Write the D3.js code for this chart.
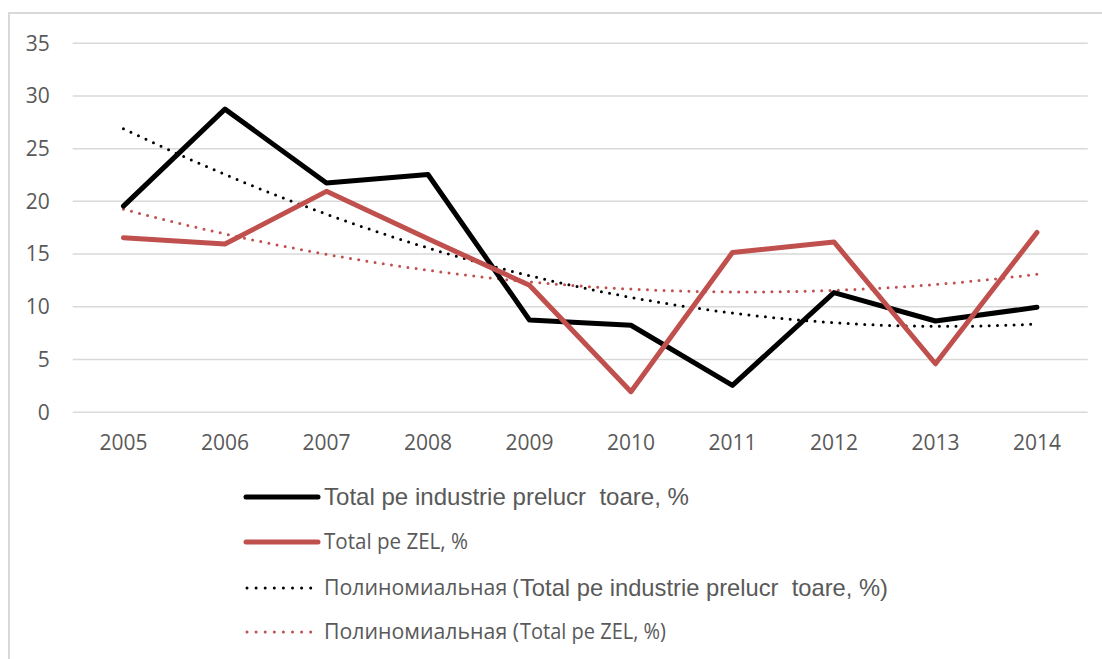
<!DOCTYPE html>
<html>
<head>
<meta charset="utf-8">
<script src="https://cdn.jsdelivr.net/npm/d3@7"></script>
<style>
  html, body { margin: 0; padding: 0; background: #ffffff; }
  svg { display: block; }
</style>
</head>
<body>
<svg id="chart" width="1102" height="659"></svg>
<script>
// Years on the category axis
const years = ["2005", "2006", "2007", "2008", "2009", "2010", "2011", "2012", "2013", "2014"];

// Share values, %
const industrieValues = [19.5, 28.7, 21.7, 22.5, 8.7, 8.2, 2.5, 11.3, 8.6, 9.9];
const zelValues       = [16.5, 15.9, 20.9, 16.4, 12.0, 1.9, 15.1, 16.1, 4.55, 17.0];

// Value axis ticks
const yTicks = [0, 5, 10, 15, 20, 25, 30, 35];

// Legend captions (each row may mix two typefaces)
const legendIndustrie = "Total pe industrie prelucr  toare, %";
const legendZel = "Total pe ZEL, %";
const trendPrefix = "Полиномиальная (";

const svg = d3.select("#chart");
const W = 1102, H = 659;

const RED = "#C0504D";
const GRID = "#D9D9D9";
const TEXT = "#595959";
const SEGOE = "'Open Sans', 'Noto Sans', sans-serif";
const ARIAL = "'Liberation Sans', Arial, sans-serif";

// Chart area frame
svg.append("rect")
  .attr("x", 9).attr("y", 13)
  .attr("width", W + 20).attr("height", H + 20)
  .attr("fill", "#ffffff")
  .attr("stroke", GRID).attr("stroke-width", 2);

const plot = { left: 72.7, right: 1087.7, top: 42.7, bottom: 411.7 };

const x = d3.scaleBand().domain(years).range([plot.left, plot.right]).padding(0);
const xc = d => x(d) + x.bandwidth() / 2;
const y = d3.scaleLinear().domain([0, 35]).range([plot.bottom, plot.top]);

// Horizontal gridlines + value labels
const yAxis = d3.axisLeft(y).tickValues(yTicks)
  .tickSize(-(plot.right - plot.left)).tickPadding(23).tickFormat(d3.format("d"));
const gy = svg.append("g").attr("transform", `translate(${plot.left},0)`).call(yAxis);
gy.select(".domain").remove();
gy.selectAll(".tick line").attr("stroke", GRID).attr("stroke-width", 1.5);
gy.selectAll(".tick text")
  .attr("fill", TEXT).attr("font-family", SEGOE).attr("font-size", 21)
  .attr("dy", "0.35em");

// Category labels
const xAxis = d3.axisBottom(x).tickSize(0).tickPadding(0);
const gx = svg.append("g").attr("transform", `translate(0,${plot.bottom})`).call(xAxis);
gx.select(".domain").remove();
gx.selectAll(".tick text")
  .attr("fill", TEXT).attr("font-family", SEGOE).attr("font-size", 21)
  .attr("y", 31).attr("dy", "0.35em");

// Least-squares quadratic fit over category index 1..n
function quadFit(vals) {
  const n = vals.length;
  let s = [0, 0, 0, 0, 0], t = [0, 0, 0];
  vals.forEach((v, i) => {
    const xi = i + 1;
    for (let k = 0; k <= 4; k++) s[k] += Math.pow(xi, k);
    for (let k = 0; k <= 2; k++) t[k] += v * Math.pow(xi, k);
  });
  const M = [[s[0], s[1], s[2], t[0]], [s[1], s[2], s[3], t[1]], [s[2], s[3], s[4], t[2]]];
  for (let c = 0; c < 3; c++) {
    for (let r = c + 1; r < 3; r++) {
      const f = M[r][c] / M[c][c];
      for (let k = c; k < 4; k++) M[r][k] -= f * M[c][k];
    }
  }
  const b = [0, 0, 0];
  for (let r = 2; r >= 0; r--) {
    let acc = M[r][3];
    for (let k = r + 1; k < 3; k++) acc -= M[r][k] * b[k];
    b[r] = acc / M[r][r];
  }
  return xi => b[0] + b[1] * xi + b[2] * xi * xi;
}

// Positions along the category axis for a fractional index (1 = first year)
const step = x.bandwidth();
const xAt = xi => xc(years[0]) + (xi - 1) * step;

function trendPoints(vals) {
  const f = quadFit(vals);
  return d3.range(1, vals.length + 0.0001, 0.05).map(xi => [xAt(xi), y(f(xi))]);
}

const lineData = d3.line().x((d, i) => xc(years[i])).y(d => y(d));
const lineXY = d3.line();

// Trend curves (dotted)
svg.append("path").attr("d", lineXY(trendPoints(zelValues)))
  .attr("fill", "none").attr("stroke", RED).attr("stroke-width", 3)
  .attr("stroke-linecap", "round").attr("stroke-dasharray", "0 8.3");
svg.append("path").attr("d", lineXY(trendPoints(industrieValues)))
  .attr("fill", "none").attr("stroke", "#000").attr("stroke-width", 3)
  .attr("stroke-linecap", "round").attr("stroke-dasharray", "0 8.3");

// Series lines
svg.append("path").attr("d", lineData(industrieValues))
  .attr("fill", "none").attr("stroke", "#000").attr("stroke-width", 5)
  .attr("stroke-linejoin", "round").attr("stroke-linecap", "round");
svg.append("path").attr("d", lineData(zelValues))
  .attr("fill", "none").attr("stroke", RED).attr("stroke-width", 5)
  .attr("stroke-linejoin", "round").attr("stroke-linecap", "round");

// Legend
const legend = svg.append("g");
const rows = [
  { y: 497, color: "#000", dotted: false,
    parts: [{ t: legendIndustrie, font: ARIAL, size: 24, x: 324, w: 365 }] },
  { y: 542, color: RED, dotted: false,
    parts: [{ t: legendZel, font: SEGOE, size: 21, x: 324, w: 144 }] },
  { y: 588, color: "#000", dotted: true,
    parts: [{ t: trendPrefix, font: SEGOE, size: 21, x: 324, w: 195 },
            { t: legendIndustrie + ")", font: ARIAL, size: 24, x: 520, w: 368 }] },
  { y: 632, color: RED, dotted: true,
    parts: [{ t: trendPrefix, font: SEGOE, size: 21, x: 324, w: 195 },
            { t: legendZel + ")", font: SEGOE, size: 21, x: 520, w: 146 }] }
];
rows.forEach(r => {
  const g = legend.append("g");
  if (r.dotted) {
    g.append("line").attr("x1", 247).attr("x2", 312).attr("y1", r.y).attr("y2", r.y)
      .attr("stroke", r.color).attr("stroke-width", 3)
      .attr("stroke-linecap", "round").attr("stroke-dasharray", "0 9.1");
  } else {
    g.append("line").attr("x1", 246).attr("x2", 318).attr("y1", r.y).attr("y2", r.y)
      .attr("stroke", r.color).attr("stroke-width", 5).attr("stroke-linecap", "round");
  }
  r.parts.forEach(p => {
    g.append("text").attr("x", p.x).attr("y", r.y).attr("dy", "0.35em")
      .attr("font-family", p.font).attr("font-size", p.size).attr("fill", TEXT)
      .attr("textLength", p.w).attr("lengthAdjust", "spacingAndGlyphs")
      .style("white-space", "pre")
      .text(p.t);
  });
});
</script>
</body>
</html>
